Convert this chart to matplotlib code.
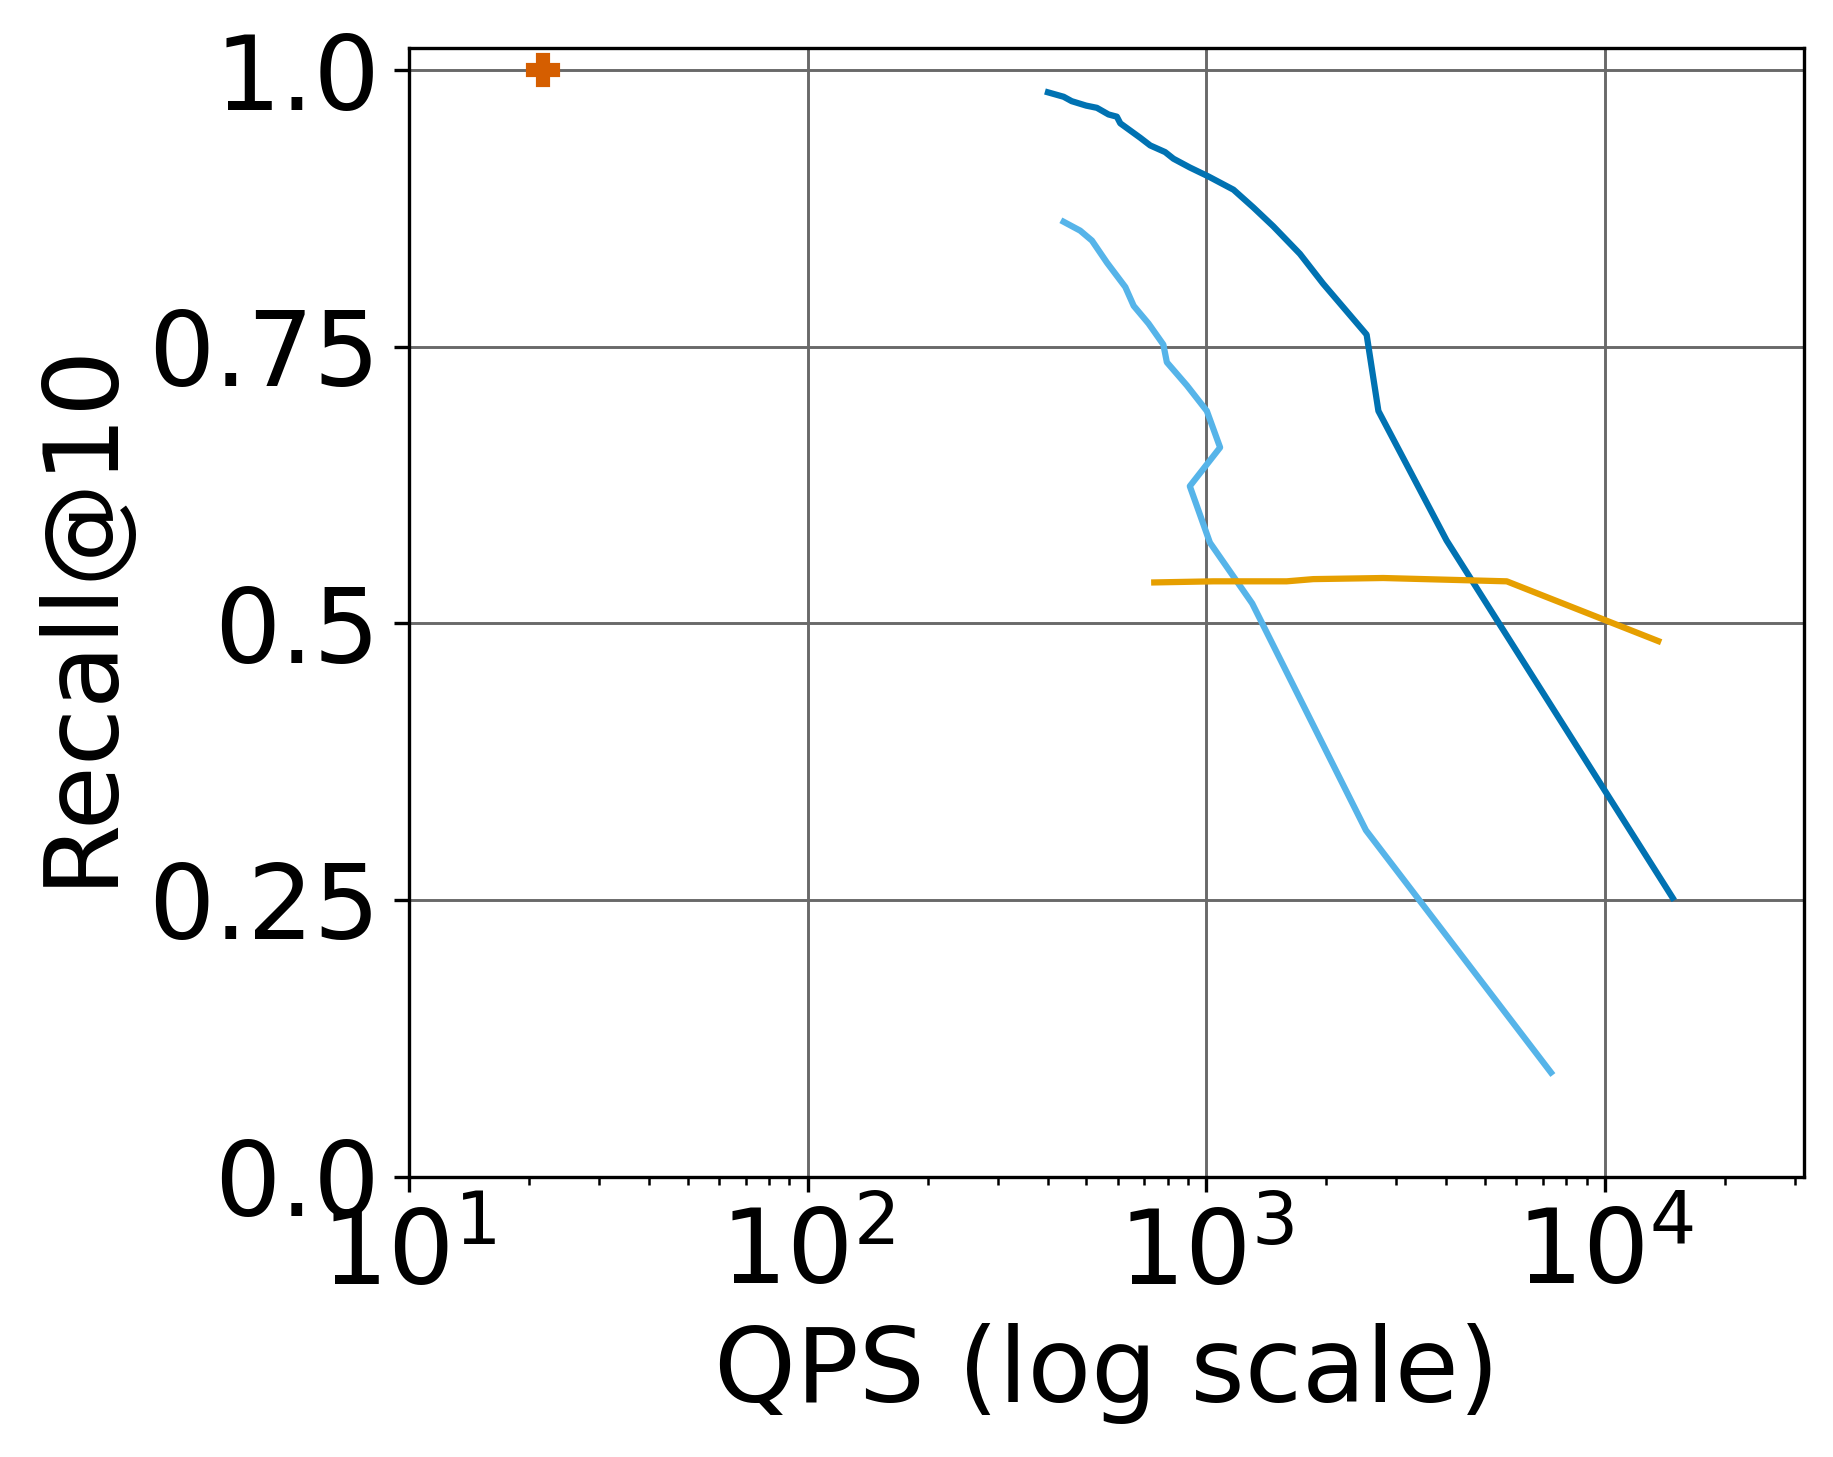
import matplotlib
matplotlib.use("Agg")
import matplotlib.pyplot as plt

# recall@10 vs QPS
qps_a = [401, 439, 460, 500, 532, 569, 597, 609, 683, 724, 789, 828, 911,
         1013, 1171, 1313, 1473, 1719, 1966, 2527, 2705, 4010, 14800]
rec_a = [0.980, 0.976, 0.972, 0.968, 0.966, 0.960, 0.958, 0.952, 0.939, 0.932,
         0.926, 0.920, 0.912, 0.904, 0.892, 0.876, 0.859, 0.834, 0.807, 0.761,
         0.692, 0.575, 0.252]

qps_b = [439, 483, 517, 564, 627, 658, 717, 781, 797, 895, 1004, 1084, 910,
         1022, 1305, 2517, 7330]
rec_b = [0.863, 0.855, 0.846, 0.826, 0.804, 0.787, 0.771, 0.752, 0.736, 0.715,
         0.692, 0.659, 0.624, 0.573, 0.518, 0.313, 0.094]

qps_c = [741, 1043, 1593, 1857, 2781, 5678, 13620]
rec_c = [0.537, 0.538, 0.538, 0.540, 0.541, 0.538, 0.484]

qps_d = [21.7]
rec_d = [1.0]

yticks = [0.0, 0.25, 0.5, 0.75, 1.0]
ytick_labels = ["0.0", "0.25", "0.5", "0.75", "1.0"]

fs = 25
fig = plt.figure(figsize=(1833 / 300, 1457 / 300), dpi=300)
ax = fig.add_axes([0.2231, 0.1925, 0.7611, 0.7745])

ax.plot(qps_a, rec_a, color="#0072B2", lw=1.5)
ax.plot(qps_b, rec_b, color="#56B4E9", lw=1.5)
ax.plot(qps_c, rec_c, color="#E69F00", lw=1.5)
ax.plot(qps_d, rec_d, color="#D55E00", marker="P", ms=7, ls="none")

ax.set_xscale("log")
ax.set_xlim(10, 10 ** 4.5)
ax.set_ylim(0, 1.02)
ax.set_yticks(yticks)
ax.set_yticklabels(ytick_labels)
ax.tick_params(labelsize=fs)
ax.grid(True, which="major", color="dimgray", lw=0.7)
ax.set_axisbelow(True)

ax.set_xlabel("QPS (log scale)", fontsize=fs)
ax.set_ylabel("Recall@10", fontsize=fs)

fig.savefig("out.png", dpi=300)
